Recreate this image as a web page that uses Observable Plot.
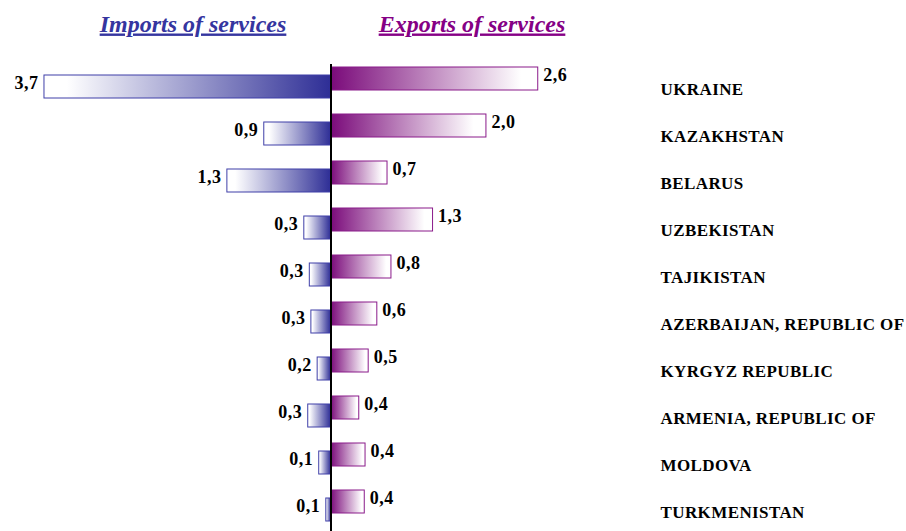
<!DOCTYPE html>
<html>
<head>
<meta charset="utf-8">
<script src="https://cdn.jsdelivr.net/npm/d3@7"></script>
<script src="https://cdn.jsdelivr.net/npm/@observablehq/plot@0.6"></script>
<style>
  html, body { margin: 0; padding: 0; background: #fff; }
  #chart svg { display: block; }
  .titles text { text-decoration: underline; text-decoration-thickness: 2px; text-underline-offset: 2px; }
  g[aria-label="y-axis tick label"] text { letter-spacing: 0.4px; }
  .vals text { letter-spacing: 0.5px; }
</style>
</head>
<body>
<div id="chart"></div>
<script>
const countries = ["UKRAINE", "KAZAKHSTAN", "BELARUS", "UZBEKISTAN", "TAJIKISTAN",
  "AZERBAIJAN, REPUBLIC OF", "KYRGYZ REPUBLIC", "ARMENIA, REPUBLIC OF", "MOLDOVA", "TURKMENISTAN"];
const exportsVals = [2.64, 1.98, 0.72, 1.30, 0.77, 0.59, 0.48, 0.36, 0.44, 0.43];
const importsVals = [3.65, 0.85, 1.32, 0.34, 0.27, 0.25, 0.17, 0.29, 0.15, 0.06];
const exportLabels = ["2,6", "2,0", "0,7", "1,3", "0,8", "0,6", "0,5", "0,4", "0,4", "0,4"];
const importLabels = ["3,7", "0,9", "1,3", "0,3", "0,3", "0,3", "0,2", "0,3", "0,1", "0,1"];
const titleImports = "Imports of services";
const titleExports = "Exports of services";

const data = countries.map((c, i) => ({
  country: c, exp: exportsVals[i], imp: importsVals[i],
  expLabel: exportLabels[i], impLabel: importLabels[i]
}));

const defs = () => {
  const ns = "http://www.w3.org/2000/svg";
  const d = document.createElementNS(ns, "defs");
  d.innerHTML = `
    <linearGradient id="expGrad" x1="0" x2="1" y1="0" y2="0">
      <stop offset="0" stop-color="#7a0a7a"/>
      <stop offset="0.92" stop-color="#ffffff"/>
      <stop offset="1" stop-color="#ffffff"/>
    </linearGradient>
    <linearGradient id="impGrad" x1="0" x2="1" y1="0" y2="0">
      <stop offset="0" stop-color="#ffffff"/>
      <stop offset="0.08" stop-color="#ffffff"/>
      <stop offset="1" stop-color="#2e2e96"/>
    </linearGradient>`;
  return d;
};

const font = "'Liberation Serif', 'Times New Roman', serif";

const chart = Plot.plot({
  width: 906,
  height: 531,
  marginLeft: 0,
  marginRight: 246,
  marginTop: 64,
  marginBottom: 0,
  style: { fontFamily: font, background: "#fff", color: "#000" },
  x: { domain: [-330.5 / 78.5, 575.5 / 78.5], range: [0, 906], axis: null },
  y: { type: "band", domain: countries, range: [40.6, 539], padding: 0.515, axis: null },
  marks: [
    defs,
    Plot.barX(data, { x1: 0, x2: d => -d.imp, y: "country", dy: 8,
      fill: "url(#impGrad)", stroke: "#3f3fa8", strokeWidth: 1 }),
    Plot.barX(data, { x1: 0, x2: "exp", y: "country",
      fill: "url(#expGrad)", stroke: "#8a1a8a", strokeWidth: 1 }),
    Plot.ruleX([0], { stroke: "#000", strokeWidth: 2 }),
    Plot.text(data, { x: "exp", y: "country", text: "expLabel", dx: 5, dy: -4,
      textAnchor: "start", fontSize: 18, fontWeight: "bold", fill: "#000", className: "vals" }),
    Plot.text(data, { x: d => -d.imp, y: "country", text: "impLabel", dx: -6, dy: 4,
      textAnchor: "end", fontSize: 18, fontWeight: "bold", fill: "#000", className: "vals" }),
    Plot.axisY({ anchor: "right", label: null, tickSize: 0, tickPadding: 0, dy: 11,
      fontSize: 17, fontWeight: "bold", fill: "#000", textAnchor: "start" }),
    Plot.text([titleImports], { frameAnchor: "top-left", dx: 192.5, dy: -33, lineAnchor: "bottom",
      text: d => d, textAnchor: "middle", fontSize: 24, fontWeight: "bold", fontStyle: "italic",
      fill: "#35359f", className: "titles" }),
    Plot.text([titleExports], { frameAnchor: "top-left", dx: 471.5, dy: -33, lineAnchor: "bottom",
      text: d => d, textAnchor: "middle", fontSize: 24, fontWeight: "bold", fontStyle: "italic",
      fill: "#850085", className: "titles" })
  ]
});
document.getElementById("chart").appendChild(chart);
</script>
</body>
</html>
